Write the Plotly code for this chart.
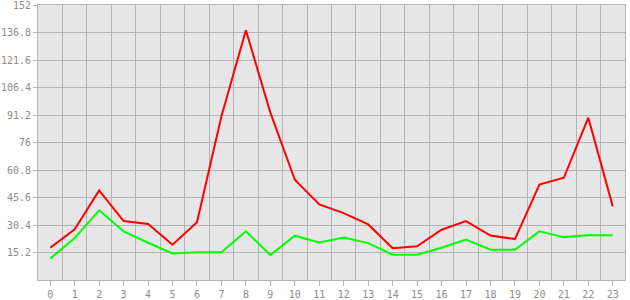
import plotly.graph_objects as go

hours = list(range(24))
red_values = [17.8, 28.0, 49.5, 32.6, 31.0, 19.5, 32.0, 90.5, 138.0, 92.5, 55.4, 41.8,
              37.0, 30.7, 17.6, 18.6, 27.8, 32.6, 24.6, 22.6, 52.8, 56.5, 89.7, 40.7]
green_values = [11.8, 23.2, 38.5, 26.9, 20.6, 14.7, 15.4, 15.4, 26.9, 13.8, 24.5, 20.8,
                23.5, 20.4, 14.0, 14.0, 17.8, 22.4, 16.7, 16.7, 26.9, 23.7, 24.8, 24.8]
y_ticks = [15.2, 30.4, 45.6, 60.8, 76, 91.2, 106.4, 121.6, 136.8, 152]
y_labels = ["15.2", "30.4", "45.6", "60.8", "76", "91.2", "106.4", "121.6", "136.8", "152"]
x_labels = [str(h) for h in hours]
grid_positions = [h + 0.5 for h in hours[:-1]]

GRID = "#b4b4b4"
TEXT = "#8c8c8c"
FONT = dict(family="DejaVu Sans Mono", size=10, color=TEXT)

fig = go.Figure()
fig.add_trace(go.Scatter(x=hours, y=red_values, mode="lines",
                         line=dict(color="#ff0000", width=2), showlegend=False))
fig.add_trace(go.Scatter(x=hours, y=green_values, mode="lines",
                         line=dict(color="#00ff00", width=2), showlegend=False))

fig.update_layout(
    width=630, height=300,
    margin=dict(l=38, r=5, t=5, b=20, autoexpand=False),
    paper_bgcolor="white",
    plot_bgcolor="#e6e6e6",
    font=FONT,
    xaxis=dict(range=[-0.5, 23.5], tickmode="array", tickvals=grid_positions,
               showticklabels=False, ticks="", showgrid=True, gridcolor=GRID, gridwidth=1,
               showline=True, linecolor=GRID, linewidth=1, mirror=True, zeroline=False,
               automargin=False, fixedrange=True),
    xaxis2=dict(range=[-0.5, 23.5], overlaying="x", side="bottom", anchor="y",
                tickmode="array", tickvals=hours, ticktext=x_labels,
                ticks="outside", ticklen=5, tickwidth=1, tickcolor=GRID,
                showgrid=False, showline=False, zeroline=False,
                tickfont=FONT, automargin=False, fixedrange=True,
                ticklabeloverflow="allow"),
    yaxis=dict(range=[0, 152], tickmode="array", tickvals=y_ticks, ticktext=y_labels,
               ticks="outside", ticklen=4, tickwidth=1, tickcolor=GRID,
               showgrid=True, gridcolor=GRID, gridwidth=1,
               showline=True, linecolor=GRID, linewidth=1, mirror=True, zeroline=False,
               tickfont=FONT, automargin=False, fixedrange=True,
               ticklabeloverflow="allow"),
)
fig.add_trace(go.Scatter(x=[], y=[], xaxis="x2", yaxis="y", showlegend=False, hoverinfo="skip"))

fig.write_html("out.html")
